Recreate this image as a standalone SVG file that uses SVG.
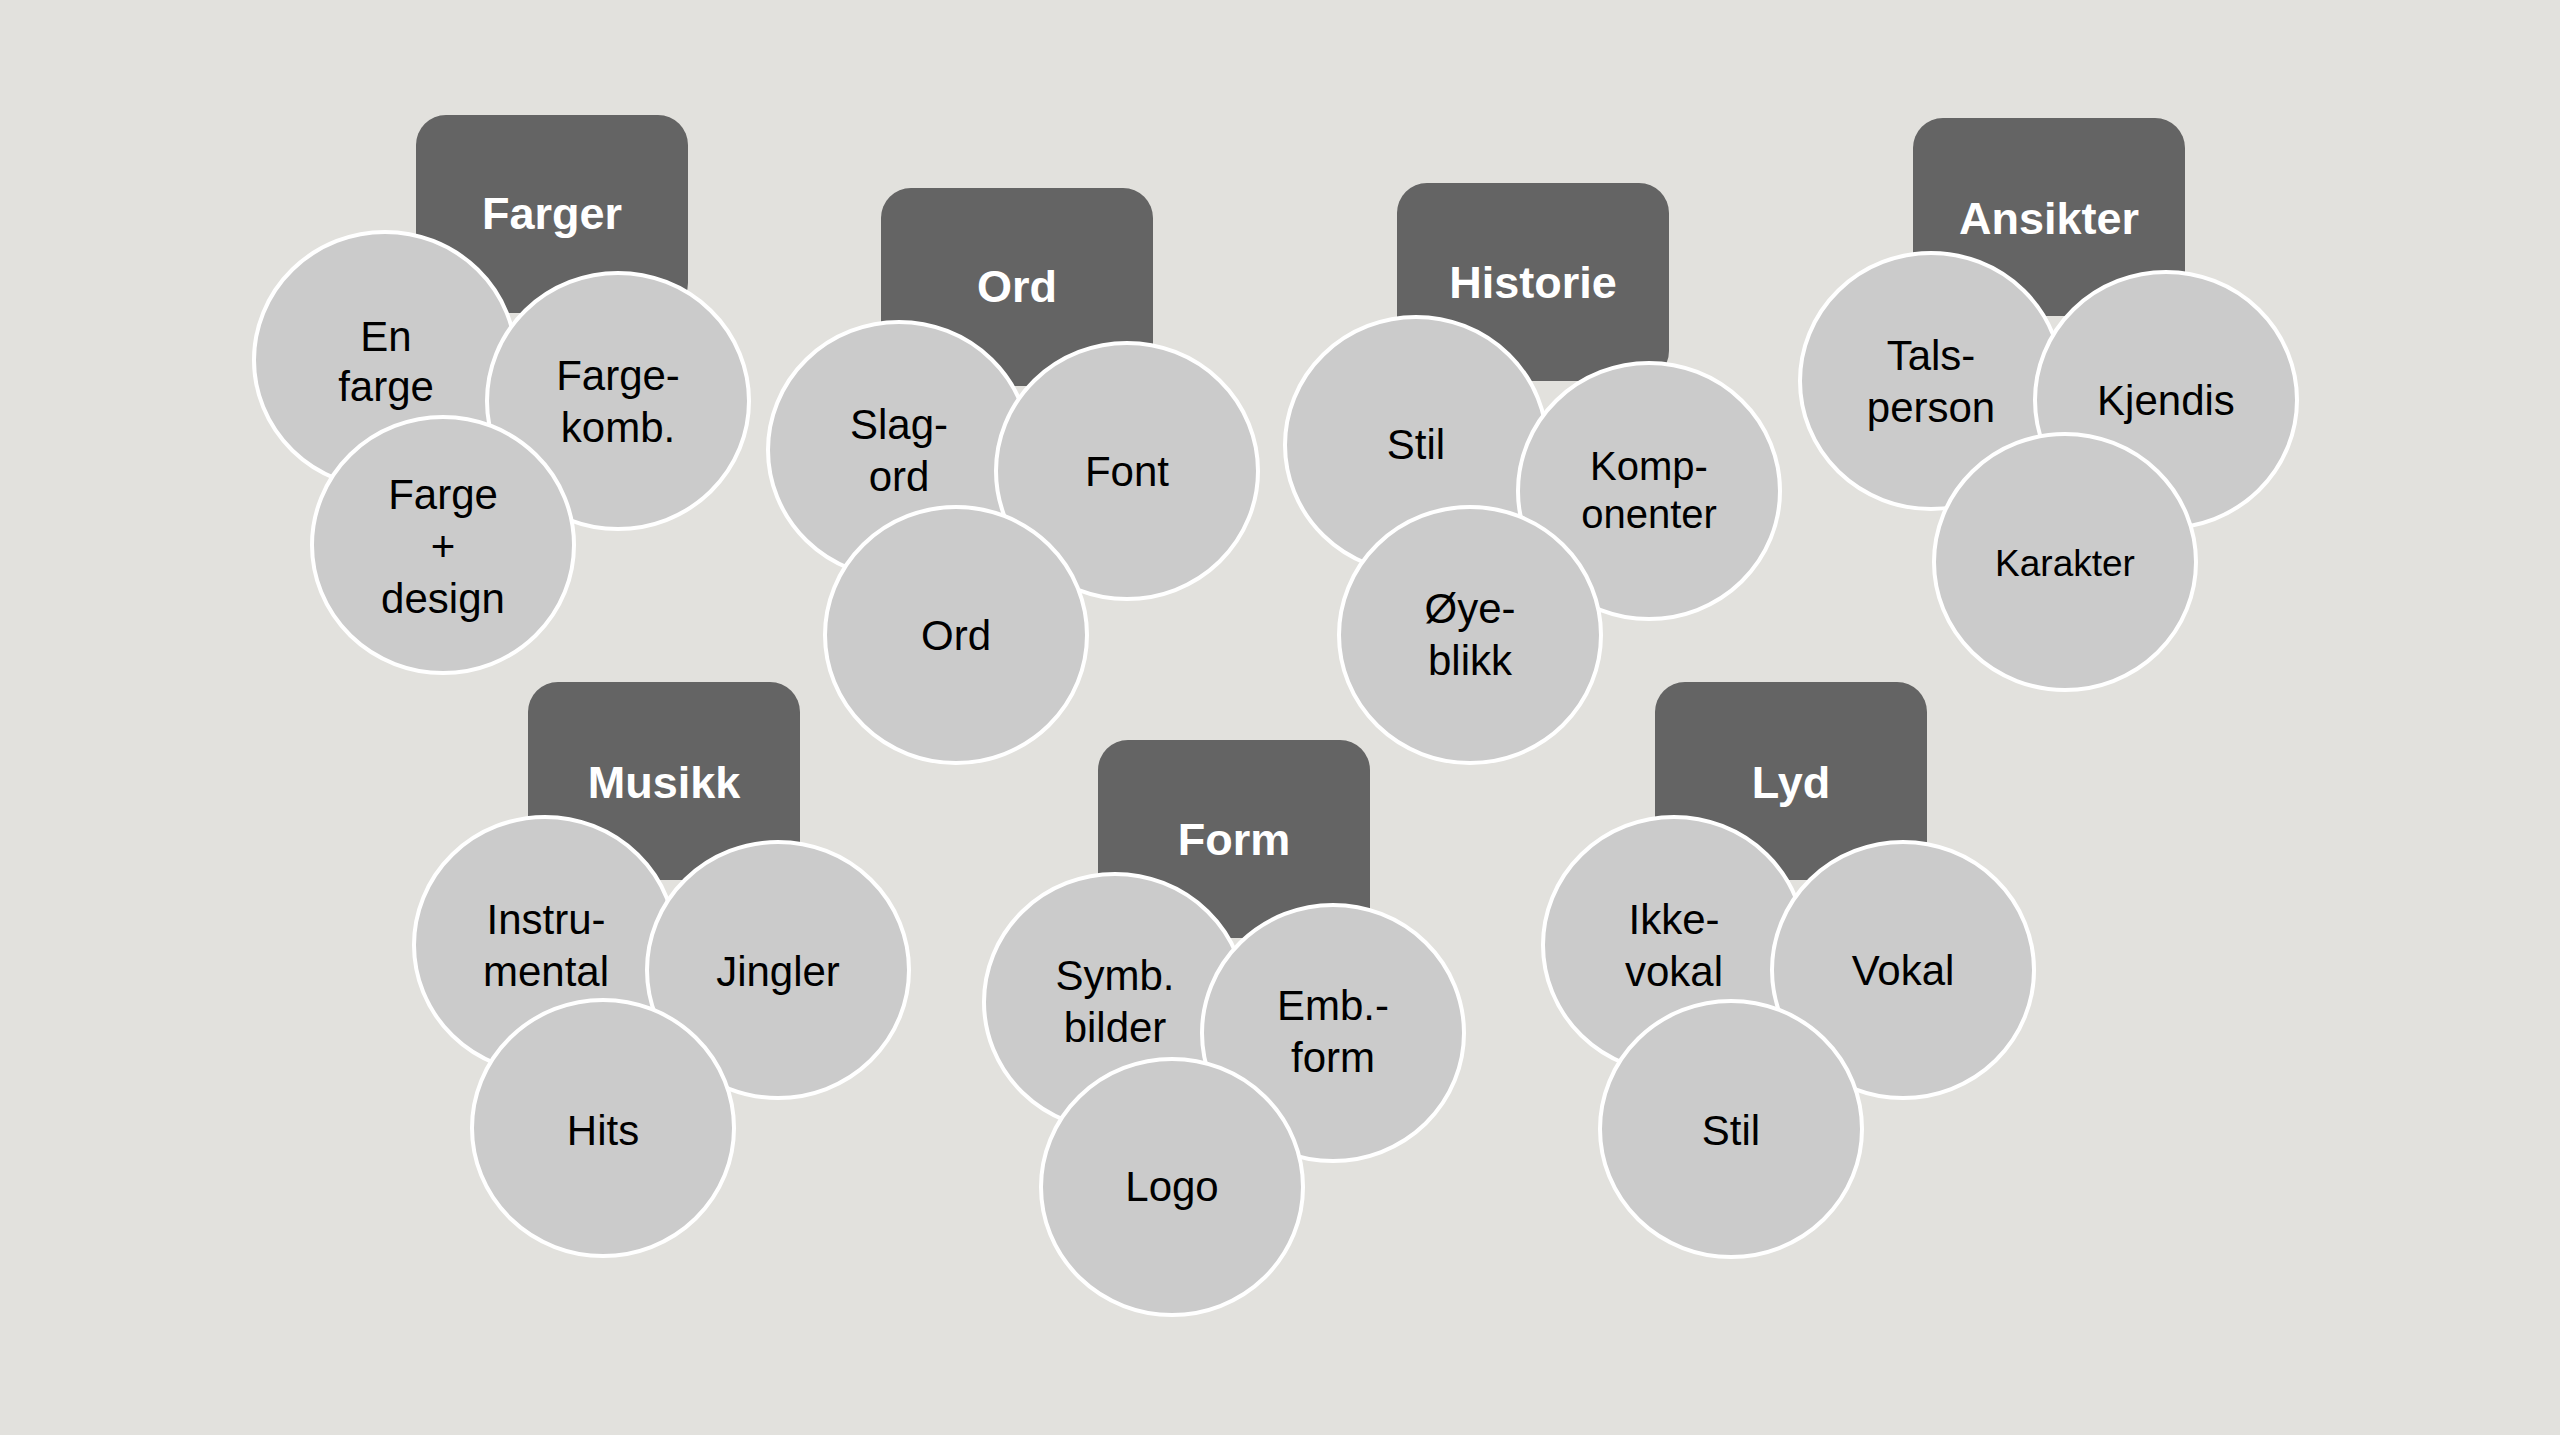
<svg xmlns="http://www.w3.org/2000/svg" width="2560" height="1435" viewBox="0 0 2560 1435">
<style>
.bg{fill:#E2E1DD}
.hdr{fill:#646464}
.c{fill:#CBCBCB;stroke:#FFFFFF;stroke-width:4}
.ht{font-family:"Liberation Sans",Arial,Helvetica,sans-serif;font-weight:bold;font-size:45px;fill:#FFFFFF;text-anchor:middle}
.t{font-family:"Liberation Sans",Arial,Helvetica,sans-serif;font-size:42px;fill:#000000;text-anchor:middle}
.s{font-size:40px}
.k{font-size:37px}
</style>
<rect class="bg" x="0" y="0" width="2560" height="1435"/>
<g id="connectors"/>

<g id="farger">
<rect class="hdr" x="416" y="115" width="272" height="198" rx="30"/>
<text class="ht" x="552" y="229">Farger</text>
<g id="farger-en-farge"><ellipse class="c" cx="385" cy="360" rx="131" ry="128"/><text class="t" x="386" y="351">En</text><text class="t" x="386" y="401">farge</text></g>
<g id="farger-fargekomb"><ellipse class="c" cx="618" cy="401" rx="131" ry="128"/><text class="t" x="618" y="390">Farge-</text><text class="t" x="618" y="442">komb.</text></g>
<g id="farger-design"><ellipse class="c" cx="443" cy="545" rx="131" ry="128"/><text class="t" x="443" y="509">Farge</text><text class="t" x="443" y="561">+</text><text class="t" x="443" y="613">design</text></g>
</g>

<g id="ord">
<rect class="hdr" x="881" y="188" width="272" height="198" rx="30"/>
<text class="ht" x="1017" y="302">Ord</text>
<g id="ord-slagord"><ellipse class="c" cx="899" cy="450" rx="131" ry="128"/><text class="t" x="899" y="439">Slag-</text><text class="t" x="899" y="491">ord</text></g>
<g id="ord-font"><ellipse class="c" cx="1127" cy="471" rx="131" ry="128"/><text class="t" x="1127" y="486">Font</text></g>
<g id="ord-ord"><ellipse class="c" cx="956" cy="635" rx="131" ry="128"/><text class="t" x="956" y="650">Ord</text></g>
</g>

<g id="historie">
<rect class="hdr" x="1397" y="183" width="272" height="198" rx="30"/>
<text class="ht" x="1533" y="298">Historie</text>
<g id="historie-stil"><ellipse class="c" cx="1416" cy="445" rx="131" ry="128"/><text class="t" x="1416" y="459">Stil</text></g>
<g id="historie-komponenter"><ellipse class="c" cx="1649" cy="491" rx="131" ry="128"/><text class="t s" x="1649" y="480">Komp-</text><text class="t s" x="1649" y="528">onenter</text></g>
<g id="historie-oyeblikk"><ellipse class="c" cx="1470" cy="635" rx="131" ry="128"/><text class="t" x="1470" y="623">Øye-</text><text class="t" x="1470" y="675">blikk</text></g>
</g>

<g id="ansikter">
<rect class="hdr" x="1913" y="118" width="272" height="198" rx="30"/>
<text class="ht" x="2049" y="234">Ansikter</text>
<g id="ansikter-talsperson"><ellipse class="c" cx="1931" cy="381" rx="131" ry="128"/><text class="t" x="1931" y="370">Tals-</text><text class="t" x="1931" y="422">person</text></g>
<g id="ansikter-kjendis"><ellipse class="c" cx="2166" cy="400" rx="131" ry="128"/><text class="t" x="2166" y="415">Kjendis</text></g>
<g id="ansikter-karakter"><ellipse class="c" cx="2065" cy="562" rx="131" ry="128"/><text class="t k" x="2065" y="576">Karakter</text></g>
</g>

<g id="musikk">
<rect class="hdr" x="528" y="682" width="272" height="198" rx="30"/>
<text class="ht" x="664" y="798">Musikk</text>
<g id="musikk-instrumental"><ellipse class="c" cx="545" cy="945" rx="131" ry="128"/><text class="t" x="546" y="934">Instru-</text><text class="t" x="546" y="986">mental</text></g>
<g id="musikk-jingler"><ellipse class="c" cx="778" cy="970" rx="131" ry="128"/><text class="t" x="778" y="986">Jingler</text></g>
<g id="musikk-hits"><ellipse class="c" cx="603" cy="1128" rx="131" ry="128"/><text class="t" x="603" y="1145">Hits</text></g>
</g>

<g id="form">
<rect class="hdr" x="1098" y="740" width="272" height="198" rx="30"/>
<text class="ht" x="1234" y="855">Form</text>
<g id="form-symb"><ellipse class="c" cx="1115" cy="1002" rx="131" ry="128"/><text class="t" x="1115" y="990">Symb.</text><text class="t" x="1115" y="1042">bilder</text></g>
<g id="form-emb"><ellipse class="c" cx="1333" cy="1033" rx="131" ry="128"/><text class="t" x="1333" y="1020">Emb.-</text><text class="t" x="1333" y="1072">form</text></g>
<g id="form-logo"><ellipse class="c" cx="1172" cy="1187" rx="131" ry="128"/><text class="t" x="1172" y="1201">Logo</text></g>
</g>

<g id="lyd">
<rect class="hdr" x="1655" y="682" width="272" height="198" rx="30"/>
<text class="ht" x="1791" y="798">Lyd</text>
<g id="lyd-ikkevokal"><ellipse class="c" cx="1674" cy="945" rx="131" ry="128"/><text class="t" x="1674" y="934">Ikke-</text><text class="t" x="1674" y="986">vokal</text></g>
<g id="lyd-vokal"><ellipse class="c" cx="1903" cy="970" rx="131" ry="128"/><text class="t" x="1903" y="985">Vokal</text></g>
<g id="lyd-stil"><ellipse class="c" cx="1731" cy="1129" rx="131" ry="128"/><text class="t" x="1731" y="1145">Stil</text></g>
</g>
</svg>
